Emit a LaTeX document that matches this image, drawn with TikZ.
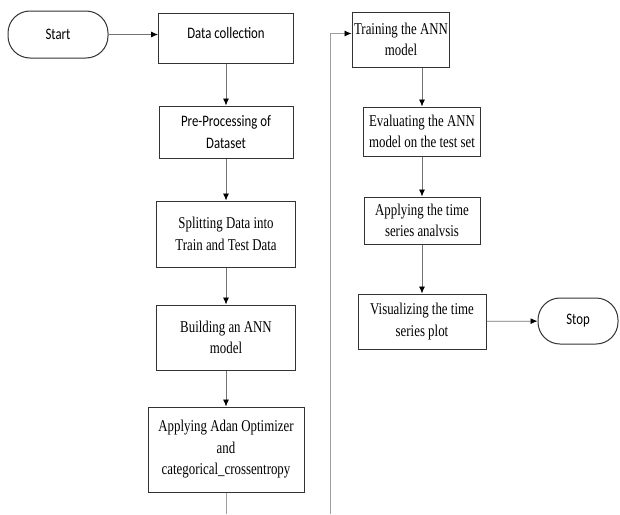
\documentclass[tikz,border=0pt]{standalone}
\usepackage{fontspec}
\setmainfont{Liberation Serif}[FakeStretch=0.78]
\newfontfamily\calibrifont{Carlito}[FakeStretch=0.8]
\usetikzlibrary{shapes,arrows.meta,positioning}
\definecolor{BoxColor}{rgb}{0.2,0.2,0.2}
\definecolor{LineColor}{rgb}{0.45,0.45,0.45}
\definecolor{LoopColor}{rgb}{0.62,0.62,0.62}
\tikzset{
    box/.style={rectangle, draw=BoxColor, line width=1pt, align=center, inner sep=2pt, font=\fontsize{16.5}{21.5}\selectfont},
    sbox/.style={box, font=\calibrifont\fontsize{16}{22}\selectfont},
    term/.style={sbox, rounded corners=22pt},
    connection/.style={-{Latex[length=7pt,width=6pt,black]}, draw=LineColor, line width=0.8pt},
    loopline/.style={draw=LoopColor, line width=0.8pt}
}
\begin{document}
\begin{tikzpicture}[x=1pt, y=-1pt, node distance=40pt]
\useasboundingbox (0,0) rectangle (620,514);

% Start and stop
\node (start) [term, minimum width=100pt, minimum height=47pt] at (58,34.5) {Start};
\node (stop) [term, minimum width=80pt, minimum height=46pt] at (578,321) {Stop};

% Left column
\node (data) [sbox, minimum width=135pt, minimum height=50pt, text depth=11pt] at (226,38) {Data collection};
\node (prep) [sbox, below=42pt of data, minimum width=134pt, minimum height=52pt] {Pre-Processing of\\Dataset};
\node (split) [box, below=42pt of prep, minimum width=139pt, minimum height=66pt] {Splitting Data into\\Train and Test Data};
\node (build) [box, below=37pt of split, minimum width=139pt, minimum height=65pt] {Building an ANN\\model};
\node (adan) [box, below=36pt of build, minimum width=156pt, minimum height=85pt] {Applying Adan Optimizer\\and\\categorical\_crossentropy};

% Right column
\node (train) [box, minimum width=96pt, minimum height=55pt] at (401,39.5) {Training the ANN\\model};
\node (eval) [box, minimum width=117pt, minimum height=49pt] at (422,131.5) {Evaluating the ANN\\model on the test set};
\node (tsa) [box, below=40pt of eval, minimum width=116pt, minimum height=47pt] {Applying the time\\series analvsis};
\node (vis) [box, below=49pt of tsa, minimum width=128pt, minimum height=55pt] {Visualizing the time\\series plot};

% Page break ends
\coordinate (pageend) at (0,514);
\coordinate (loopend) at (330,514);

% Connections
\draw [connection] (start) -- (start -| data.west);
\draw [connection] (data) -- (prep);
\draw [connection] (prep) -- (split);
\draw [connection] (split) -- (build);
\draw [connection] (build) -- (adan);
\draw [loopline] (adan) -- (adan |- pageend);
\draw [loopline, -{Latex[length=7pt,width=6pt,black]}] (loopend) |- ([yshift=6pt]train.west);
\draw [connection] (train.south -| eval.north) -- (eval.north);
\draw [connection] (eval) -- (tsa);
\draw [connection] (tsa) -- (vis);
\draw [connection] (vis) -- (stop);

\end{tikzpicture}
\end{document}
